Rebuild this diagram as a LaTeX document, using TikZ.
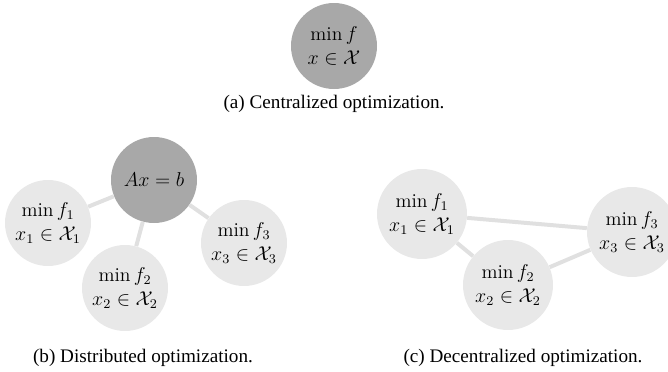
\documentclass[tikz,border=0pt]{standalone}
\usepackage{amsmath,amssymb}
\usepackage{fontspec}
\newfontfamily\capfont{Liberation Serif}
\definecolor{nodelight}{RGB}{232,232,232}
\definecolor{nodedark}{RGB}{168,168,168}
\definecolor{linkgray}{RGB}{224,224,224}
\usetikzlibrary{positioning}
\tikzset{
  agent/.style={circle, fill=nodelight, minimum size=51.6pt, inner sep=0pt, align=center,
    font=\fontsize{11.8}{14}\selectfont},
  hub/.style={agent, fill=nodedark},
  link/.style={draw=linkgray, line width=2.4pt},
  caption/.style={font=\capfont\fontsize{11.5}{13}\selectfont}
}
\begin{document}
\begin{tikzpicture}[x=0.6pt, y=-0.6pt]
\useasboundingbox (0,0) rectangle (668,372);

% === (a) Centralized ===
\node[hub] (c0) at (334,46) {$\min f$\\$x\in\mathcal{X}$};
\node[caption] (capa) at (334,104) {(a) Centralized optimization.};

% === (b) Distributed ===
\node[hub] (b0) at (154,180) {$Ax=b$};
\node[agent] (b1) at (48,223) {$\min f_1$\\$x_1\in\mathcal{X}_1$};
\node[agent] (b2) at (125,288) {$\min f_2$\\$x_2\in\mathcal{X}_2$};
\node[agent] (b3) at (244,243) {$\min f_3$\\$x_3\in\mathcal{X}_3$};
\node[caption] (capb) at (143,358) {(b) Distributed optimization.};

% === (c) Decentralized ===
\node[agent, minimum size=54pt] (d1) at (422,214) {$\min f_1$\\$x_1\in\mathcal{X}_1$};
\node[agent, minimum size=54pt] (d2) at (508,285) {$\min f_2$\\$x_2\in\mathcal{X}_2$};
\node[agent, minimum size=54pt] (d3) at (632,232) {$\min f_3$\\$x_3\in\mathcal{X}_3$};
\node[caption] (capc) at (523,358) {(c) Decentralized optimization.};

% links
\draw[link] (b0) -- (b1);
\draw[link] (b0) -- (b2);
\draw[link] (b0) -- (b3);
\draw[link] (d1) -- (d3);
\draw[link] (d1) -- (d2);
\draw[link] (d2) -- (d3);
\end{tikzpicture}
\end{document}
